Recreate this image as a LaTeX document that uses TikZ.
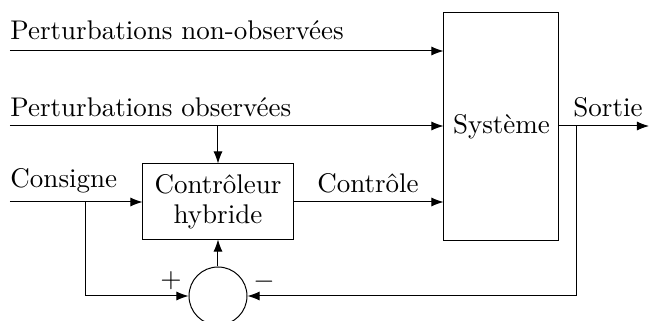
\documentclass[tikz,border=0pt]{standalone}
\usepackage{fontspec}
\usetikzlibrary{arrows.meta, positioning}

\begin{document}
\begin{tikzpicture}[x=0.4pt, y=0.4pt, >={Latex[length=4.8pt,width=3.6pt]},
		font=\fontsize{10.8pt}{11.8pt}\selectfont,
		bloc/.style={draw, align=center, inner sep=0pt},
		lbl/.style={inner sep=0pt}]
		\useasboundingbox (0,0) rectangle (649,321);

		% Draw the blocks
		\node[bloc, minimum width=46pt, minimum height=90.8pt] (sys) at (501.5,194.5) {Système};
		\node[bloc, minimum width=60pt, minimum height=30pt] (ctrl) at (218,119.5) {Contrôleur\\hybride};
		\node[draw, circle, minimum size=23.2pt, inner sep=0pt] (som) at (218,25) {};

		% Free ends of the inputs and the output
		\coordinate (pno) at (10,270);
		\coordinate (po) at (10,195);
		\coordinate (cons) at (10,119);
		\coordinate (sortie) at (649,195);
		\coordinate (branche) at (86,119);
		\coordinate (mesure) at (577,195);
		\coordinate (obs) at (218,195);

		% Add labels for the signals
		\node[lbl, anchor=base west] (tpno) at (10,282) {Perturbations non-observées};
		\node[lbl, anchor=base west] (tpo) at (10,204) {Perturbations observées};
		\node[lbl, anchor=base west] (tcons) at (10,133) {Consigne};
		\node[lbl, anchor=base] (tctrl) at (368,128) {Contrôle};
		\node[lbl, anchor=base] (tsortie) at (608,204) {Sortie};
		\node[lbl] (plus) at (171,40) {$+$};
		\node[lbl] (moins) at (264,39) {$-$};

		% Draw the connectors
		\draw[->] (pno) -- (pno -| sys.west);
		\draw[->] (po) -- (po -| sys.west);
		\draw[->] (obs) -- (ctrl.north);
		\draw[->] (cons) -- (cons -| ctrl.west);
		\draw[->] (ctrl.east |- cons) -- (cons -| sys.west);
		\draw[->] (sys.east |- sortie) -- (sortie);
		\draw[->] (branche) |- (som.west);
		\draw[->] (mesure) |- (som.east);
		\draw[->] (som.north) -- (ctrl.south);

	\end{tikzpicture}
\end{document}
